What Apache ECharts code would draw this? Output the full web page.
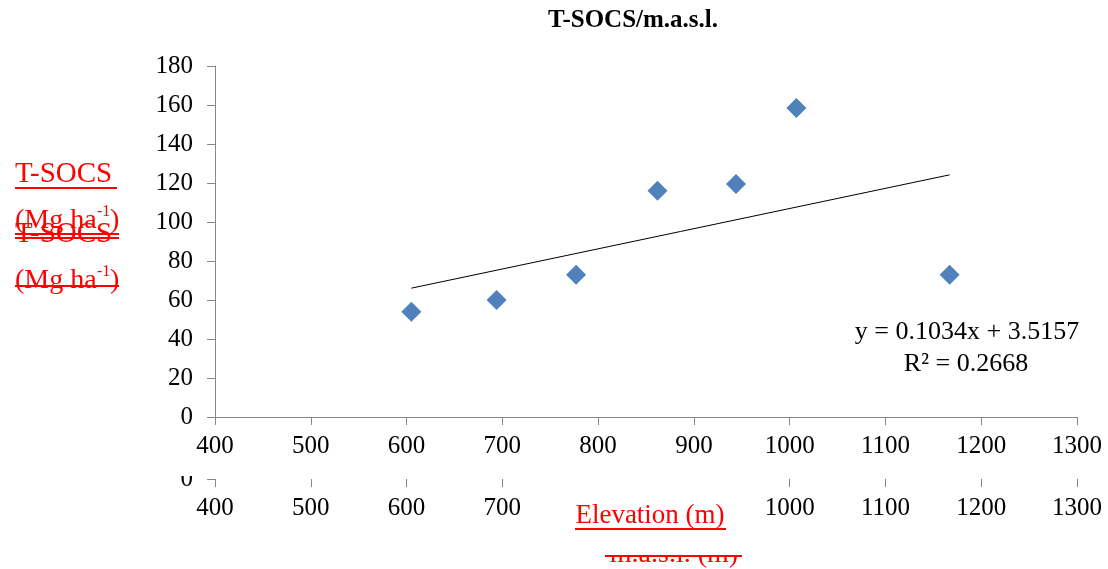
<!DOCTYPE html>
<html>
<head>
<meta charset="utf-8">
<script src="https://cdn.jsdelivr.net/npm/echarts@6/dist/echarts.min.js"></script>
<style>
html,body{margin:0;padding:0;background:#fff;}
#chart{width:1108px;height:569px;}
</style>
</head>
<body>
<div id="chart"></div>
<script>
// Data
const elevation = [605, 694, 777, 862, 944, 1007, 1167];
const tsocs = [54, 60, 73, 116, 119.5, 158.5, 73];
const trendSlope = 0.1034;
const trendIntercept = 3.5157;
const xTickRange = [400, 1300, 100];
const yTickRange = [0, 180, 20];
const titleText = 'T-SOCS/m.a.s.l.';
const equationText = 'y = 0.1034x + 3.5157';
const r2Text = 'R\u00B2 = 0.2668';

const points = elevation.map((x, i) => [x, tsocs[i]]);
const xMin = Math.min.apply(null, elevation), xMax = Math.max.apply(null, elevation);
const trend = [[xMin, trendSlope * xMin + trendIntercept], [xMax, trendSlope * xMax + trendIntercept]];

const FONT = 'Liberation Serif, Times New Roman, serif';
const RED = '#ff0000';
const AX = '#868686';

function txt(text, x, y, size, opts) {
  opts = opts || {};
  return {
    type: 'text', z: 20,
    style: {
      text: text, x: x, y: y,
      font: (opts.bold ? 'bold ' : '') + size + 'px ' + FONT,
      fill: opts.color || '#000',
      textAlign: opts.align || 'left', align: opts.align || 'left',
      textVerticalAlign: opts.va || 'middle', verticalAlign: opts.va || 'middle'
    }
  };
}
function ln(x1, y1, x2, y2, color, w, z) {
  return { type: 'line', z: z || 20, shape: {x1: x1, y1: y1, x2: x2, y2: y2}, style: {stroke: color, lineWidth: w} };
}
function rect(x, y, w, h, z) {
  return { type: 'rect', z: z, shape: {x: x, y: y, width: w, height: h}, style: {fill: '#fff'} };
}

const plain = v => String(v);
const labelStyle = {fontFamily: FONT, fontSize: 25, color: '#000', formatter: plain};

const chart = echarts.init(document.getElementById('chart'), null, {renderer: 'canvas'});
chart.setOption({
  animation: false,
  backgroundColor: '#fff',
  grid: [
    {left: 215, right: 31, top: 66, bottom: 152},
    {left: 215, right: 31, top: 300, bottom: 90}
  ],
  xAxis: [
    {
      gridIndex: 0, type: 'value', z: 5,
      min: xTickRange[0], max: xTickRange[1], interval: xTickRange[2],
      axisLine: {show: true, lineStyle: {color: AX, width: 1}},
      axisTick: {show: true, length: 8, lineStyle: {color: AX}},
      splitLine: {show: false},
      axisLabel: Object.assign({margin: 17}, labelStyle)
    },
    {
      gridIndex: 1, type: 'value', z: 0,
      min: xTickRange[0], max: xTickRange[1], interval: xTickRange[2],
      axisLine: {show: false},
      axisTick: {show: true, length: 8, lineStyle: {color: AX}},
      splitLine: {show: false},
      axisLabel: Object.assign({margin: 17}, labelStyle)
    }
  ],
  yAxis: [
    {
      gridIndex: 0, type: 'value', z: 5,
      min: yTickRange[0], max: yTickRange[1], interval: yTickRange[2],
      axisLine: {show: true, lineStyle: {color: AX, width: 1}},
      axisTick: {show: true, length: 8, lineStyle: {color: AX}},
      splitLine: {show: false},
      axisLabel: Object.assign({margin: 22}, labelStyle)
    },
    {
      gridIndex: 1, type: 'value', z: 0,
      min: 0, max: 1, interval: 1,
      axisLine: {show: false},
      axisTick: {show: true, length: 8, lineStyle: {color: AX}},
      splitLine: {show: false},
      axisLabel: Object.assign({margin: 22}, labelStyle)
    }
  ],
  series: [
    {
      type: 'line', xAxisIndex: 0, yAxisIndex: 0, z: 6,
      data: trend, showSymbol: false, symbol: 'none',
      lineStyle: {color: '#000', width: 1}
    },
    {
      type: 'scatter', xAxisIndex: 0, yAxisIndex: 0, z: 7,
      data: points, symbol: 'diamond', symbolSize: 20,
      itemStyle: {color: '#4F81BD', opacity: 1}
    }
  ],
  graphic: [
    // cover of the ghost copy above its visible strip
    rect(0, 0, 1108, 476, 2),
    // white box behind the x-axis name
    rect(540, 476, 220, 55, 3),
    // ghost axis title, clipped at the top
    txt('m.a.s.l. (m)', 674, 555, 28, {color: RED, align: 'center'}),
    rect(590, 531, 180, 24, 21),
    ln(605, 556, 742, 556, RED, 2, 22),
    // title
    txt(titleText, 633, 21, 25, {bold: true, align: 'center'}),
    // x axis name
    txt('Elevation (m)', 650, 516, 27, {color: RED, align: 'center'}),
    ln(575, 529, 726, 529, RED, 2),
    // y axis names (overlapping copies)
    txt('T-SOCS', 15, 174, 29, {color: RED}),
    ln(15, 188, 117, 188, RED, 2),
    txt('(Mg ha', 15, 221, 28, {color: RED}),
    txt('-1', 97, 212, 16, {color: RED}),
    txt(')', 110, 221, 28, {color: RED}),
    txt('T-SOCS', 15, 234, 29, {color: RED}),
    ln(15, 234, 119, 234, RED, 2),
    ln(15, 238, 119, 238, RED, 2),
    txt('(Mg ha', 15, 281, 28, {color: RED}),
    txt('-1', 97, 272, 16, {color: RED}),
    txt(')', 110, 281, 28, {color: RED}),
    ln(15, 286, 119, 286, RED, 2),
    // trendline equation
    txt(equationText, 967, 332, 26, {align: 'center'}),
    txt(r2Text, 966, 364, 26, {align: 'center'})
  ]
});
</script>
</body>
</html>
